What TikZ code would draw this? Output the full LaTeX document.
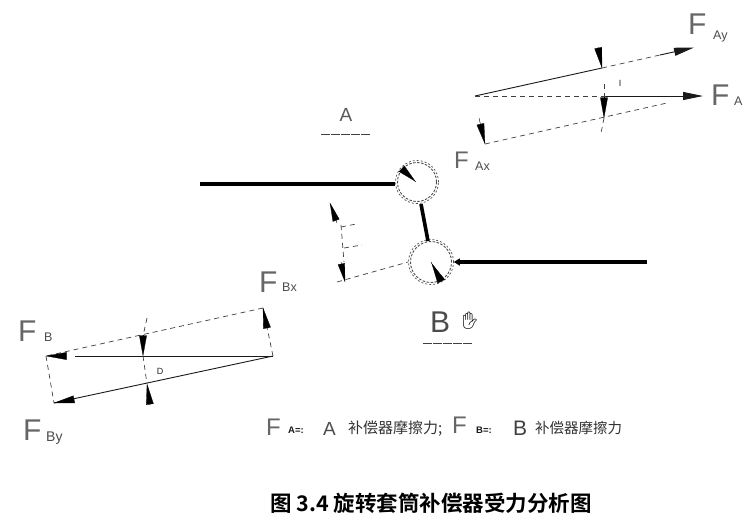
\documentclass[tikz,border=0pt]{standalone}
\usepackage{fontspec}
\setmainfont{Liberation Sans}
\newfontfamily\cjk{Noto Sans CJK SC}
\newfontfamily\cjkb[Scale=1]{Noto Sans CJK SC Bold}
\newfontfamily\emo{Noto Emoji}
\usetikzlibrary{arrows.meta}
\tikzset{
  x=1pt,y=-1pt,
  fbig/.style={inner sep=0pt,anchor=base west,text=black!60,font=\fontsize{30}{30}\selectfont},
  fsub/.style={inner sep=0pt,anchor=base west,text=black!70,font=\fontsize{12.5}{13}\selectfont},
  wedgetip/.style={line width=0.3pt,fill=black,-{Triangle[length=21pt,width=7.5pt,sep=0pt]},shorten >=-0.5pt},
  frc/.style={line width=0.9pt,black!90},
  dsh/.style={line width=0.7pt,black!75,dash pattern=on 5pt off 4pt},
  pipe/.style={line width=3.6pt,black},
  ring/.style={circle,draw=black!70,line width=0.9pt,dash pattern=on 2.5pt off 1.5pt,inner sep=0pt,minimum size=#1},
  headtip/.style={-{Triangle[length=20pt,width=8pt,sep=0pt]}},
  ulab/.style={line width=0.9pt,black!75,dash pattern=on 9pt off 1pt},
  greek/.style={inner sep=0pt,font=\fontsize{9}{9}\selectfont,text=black!85},
  smalltag/.style={inner sep=0pt,anchor=base west,text=black!90,font=\bfseries\fontsize{9.5}{10}\selectfont},
  cjklegend/.style={inner sep=0pt,anchor=base west,text=black!80,font=\cjk\fontsize{#1}{17}\selectfont},
}
\begin{document}
\begin{tikzpicture}
\useasboundingbox (0,0) rectangle (751,523);
\fill[white] (0,0) rectangle (751,523);

% top right force diagram
\coordinate (oa) at (475,96);
\coordinate (fay) at (694,47.5);
\coordinate (fayb) at (660,55);
\coordinate (fa) at (703,96);
\coordinate (fab) at (606,96);
\coordinate (fax) at (485,144);
\coordinate (faxe) at (667,103);
\coordinate (w1a) at (598,47);
\coordinate (w1b) at (602,68);
\coordinate (w2a) at (604,97);
\coordinate (w2b) at (604,118);
\coordinate (w3a) at (479,118);
\coordinate (w4a) at (604,84);
\coordinate (w4b) at (601,133);
\draw[frc] (oa) -- (w1b);
\draw[dsh] (w1b) -- (fayb);
\draw[frc,headtip] (fayb) -- (fay);
\draw[dsh] (oa) -- (fab);
\draw[frc,headtip] (fab) -- (fa);
\draw[dsh] (fax) -- (faxe);
\draw[dsh] (w4a) -- (w2a);
\draw[dsh] (w2b) -- (w4b);
\draw[wedgetip] (w1a) -- (w1b);
\draw[wedgetip] (w2a) -- (w2b);
\draw[wedgetip] (w3a) -- (fax);
\node[greek] (ia) at (620,83) {I};

\node[fbig] (lfay) at (688,34) {F};
\node[fsub] (lfays) at (713,39) {Ay};
\node[fbig] (lfa) at (711,105) {F};
\node[fsub] (lfas) at (734,105) {A};
\node[fbig,font=\fontsize{24}{24}\selectfont] (lfax) at (454,168) {F};
\node[fsub] (lfaxs) at (475,170) {Ax};

% centre: pipes and joints
\node[ring=39pt] (c1) at (417,182) {};
\node[ring=43pt,line width=0.7pt,dash pattern=on 2pt off 2pt] (c1o) at (417,182) {};
\node[ring=41pt] (c2) at (431,262) {};
\node[ring=45pt,line width=0.7pt,dash pattern=on 2pt off 2pt] (c2o) at (431,262) {};
\coordinate (pl) at (200,184);
\coordinate (pr) at (647,262);
\coordinate (k1) at (421,204);
\coordinate (k2) at (428,241);
\draw[pipe] (pl) -- (c1o.west |- pl);
\draw[pipe,-{Triangle[length=6pt,width=7pt,sep=0pt]}] (pr) -- (c2o.east |- pr);
\draw[pipe] (k1) -- (k2);
\draw[wedgetip,-{Triangle[length=19pt,width=8pt,sep=0pt,reversed]}] (416,182) -- (402,169);
\draw[wedgetip,-{Triangle[length=21pt,width=8pt,sep=0pt,reversed]}] (431,262) -- (441,281);
\draw[wedgetip,-{Triangle[length=19pt,width=7pt,sep=0pt]}] (337,223) -- (330,203);
\draw[wedgetip,-{Triangle[length=19pt,width=7pt,sep=0pt]}] (341,262) -- (345,282);
\coordinate (d1) at (337,282);
\draw[dsh] (d1) -- (c2o.west);
\draw[dsh] (341,225) -- (344,262);
\draw[dsh] (341,227) -- (356,224);
\draw[dsh] (344,248) -- (362,245);

\node[inner sep=0pt,text=black!65,font=\fontsize{19}{19}\selectfont] (la) at (346,115) {A};
\coordinate (ua1) at (321,134);
\coordinate (ua2) at (371,134);
\draw[ulab] (ua1) -- (ua2);
\node[inner sep=0pt,text=black!70,font=\fontsize{30}{30}\selectfont] (lb) at (440,322) {B};
\node[inner sep=0pt,font=\emo\fontsize{17}{17}\selectfont] (hand) at (470,321) {✋};
\coordinate (ub1) at (423,343);
\coordinate (ub2) at (473,343);
\draw[ulab] (ub1) -- (ub2);

% bottom left force diagram
\coordinate (ob) at (273,356);
\coordinate (fb) at (46,356);
\coordinate (fbx) at (263,308);
\coordinate (fby) at (54,403);
\coordinate (fbm) at (75,356);
\draw[frc] (ob) -- (fbm);
\draw[frc] (ob) -- (fby);
\draw[dsh] (ob) -- (fbx);
\draw[dsh] (fbx) -- (fb);
\draw[dsh] (fb) -- (fby);
\draw[wedgetip] (65,356) -- (fb);
\draw[wedgetip] (73,399.5) -- (fby);
\draw[wedgetip] (267,328) -- (fbx);
\draw[wedgetip] (143,335) -- (143,356);
\draw[wedgetip] (150,405) -- (147,384);
\draw[dsh] (147,318) -- (143,336);
\draw[dsh] (143,356) -- (147,384);
\node[greek] (da) at (160,371) {D};

\node[fbig] (lfbx) at (259,292) {F};
\node[fsub] (lfbxs) at (282,291) {Bx};
\node[fbig] (lfb) at (18,341) {F};
\node[fsub] (lfbs) at (44,341) {B};
\node[fbig] (lfby) at (23,440) {F};
\node[fsub,font=\fontsize{14}{14}\selectfont] (lfbys) at (46,441) {By};

% legend
\node[fbig,font=\fontsize{24}{24}\selectfont] (lg1) at (266,435) {F};
\node[smalltag] (lg2) at (288,433) {A=:};
\node[inner sep=0pt,anchor=base west,text=black!70,font=\fontsize{19}{19}\selectfont] (lg3) at (323,435) {A};
\node[cjklegend=15] (lg4) at (348,433) {补偿器摩擦力;};
\node[fbig,font=\fontsize{24}{24}\selectfont] (lg5) at (452,433) {F};
\node[smalltag] (lg6) at (476,433) {B=:};
\node[inner sep=0pt,anchor=base west,text=black!75,font=\fontsize{21}{21}\selectfont] (lg7) at (513,435) {B};
\node[cjklegend=14.5] (lg8) at (535,433) {补偿器摩擦力};

% caption
\node[inner sep=0pt,anchor=base west,font=\cjkb\fontsize{21.5}{22}\selectfont] (cap) at (270,511) {图 3.4 旋转套筒补偿器受力分析图};
\end{tikzpicture}
\end{document}
